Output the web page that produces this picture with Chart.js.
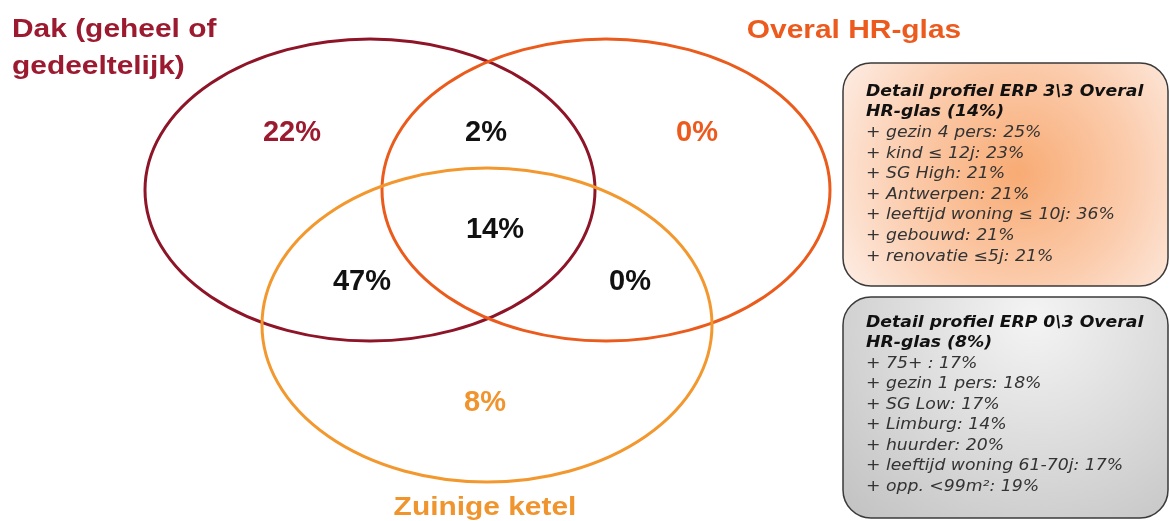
<!DOCTYPE html>
<html>
<head>
<meta charset="utf-8">
<script src="https://cdn.jsdelivr.net/npm/chart.js@4/dist/chart.umd.min.js"></script>
<style>html,body{margin:0;padding:0;background:#fff}</style>
</head>
<body>
<canvas id="chart" width="1170" height="521"></canvas>
<script>
// sets and overlap shares (%)
const setNames = [["Dak (geheel of", "gedeeltelijk)"], ["Overal HR-glas"], ["Zuinige ketel"]];
const regionNames = ["Dak", "Dak + HR-glas", "HR-glas", "Dak + HR-glas + ketel", "Dak + ketel", "HR-glas + ketel", "Ketel"];
const regionShares = [22, 2, 0, 14, 47, 0, 8];
const profileTitles = [
  ["Detail profiel ERP 3\\3 Overal", "HR-glas (14%)"],
  ["Detail profiel ERP 0\\3 Overal", "HR-glas (8%)"]
];
const profileHigh = ["+ gezin 4 pers: 25%", "+ kind \u2264 12j: 23%", "+ SG High: 21%", "+ Antwerpen: 21%",
  "+ leeftijd woning \u2264 10j: 36%", "+ gebouwd: 21%", "+ renovatie \u22645j: 21%"];
const profileLow = ["+ 75+ : 17%", "+ gezin 1 pers: 18%", "+ SG Low: 17%", "+ Limburg: 14%",
  "+ huurder: 20%", "+ leeftijd woning 61-70j: 17%", "+ opp. <99m\u00b2: 19%"];

// layout (axis units == pixels)
const ellipses = [
  { cx: 370, cy: 190, rx: 225, ry: 151, color: "#8e1428" },
  { cx: 606, cy: 190, rx: 224, ry: 151, color: "#ea5b1c" },
  { cx: 487, cy: 325, rx: 225, ry: 157, color: "#f3982e" }
];
const setLabelPos = [
  { x: 12, y: [37, 74], align: "left", color: "#9c1a30" },
  { x: 854, y: [38], align: "center", color: "#ec5a1e" },
  { x: 485, y: [515], align: "center", color: "#f0942e" }
];
const regionPos = [[292, 133], [486, 133], [697, 133], [495, 230], [362, 282], [630, 282], [485, 403]];
const regionColors = ["#9c1a30", "#111", "#ec5a1e", "#111", "#111", "#111", "#f0942e"];
const boxes = [
  { x: 843, y: 63, w: 325, h: 223, top: 92, step: 20.6, items: profileHigh, kind: "orange" },
  { x: 843, y: 297, w: 325, h: 221, top: 323, step: 20.5, items: profileLow, kind: "grey" }
];
const STRETCH = 1.15;

function text(ctx, str, x, y, font, color, align, sx) {
  ctx.save();
  ctx.font = font;
  ctx.fillStyle = color;
  ctx.textAlign = align;
  ctx.translate(x, y);
  ctx.scale(sx, 1);
  ctx.fillText(str, 0, 0);
  ctx.restore();
}

function roundRect(ctx, x, y, w, h, r) {
  ctx.beginPath();
  ctx.moveTo(x + r, y);
  ctx.arcTo(x + w, y, x + w, y + h, r);
  ctx.arcTo(x + w, y + h, x, y + h, r);
  ctx.arcTo(x, y + h, x, y, r);
  ctx.arcTo(x, y, x + w, y, r);
  ctx.closePath();
}

const vennPlugin = {
  id: "venn",
  beforeDatasetsDraw(chart) {
    const { ctx, scales: { x, y } } = chart;
    ellipses.forEach((e) => {
      const px = x.getPixelForValue(e.cx), py = y.getPixelForValue(e.cy);
      const rx = Math.abs(x.getPixelForValue(e.cx + e.rx) - px);
      const ry = Math.abs(y.getPixelForValue(e.cy + e.ry) - py);
      ctx.save();
      ctx.beginPath();
      ctx.ellipse(px, py, rx, ry, 0, 0, Math.PI * 2);
      ctx.strokeStyle = e.color;
      ctx.lineWidth = 3;
      ctx.stroke();
      ctx.restore();
    });
    setNames.forEach((lines, i) => {
      const p = setLabelPos[i];
      lines.forEach((l, j) => {
        text(ctx, l, x.getPixelForValue(p.x), y.getPixelForValue(p.y[j]),
          "bold 26px 'Liberation Sans', Arial", p.color, p.align, STRETCH);
      });
    });
    boxes.forEach((b, i) => {
      const bx = x.getPixelForValue(b.x), by = y.getPixelForValue(b.y);
      ctx.save();
      roundRect(ctx, bx, by, b.w, b.h, 28);
      let g;
      if (b.kind === "orange") {
        g = ctx.createRadialGradient(bx + 175, by + 110, 0, bx + 175, by + 110, 200);
        g.addColorStop(0, "#f8ab74");
        g.addColorStop(0.55, "#fbcbab");
        g.addColorStop(1, "#fdebe1");
      } else {
        g = ctx.createRadialGradient(bx + 190, by + 20, 0, bx + 190, by + 20, 300);
        g.addColorStop(0, "#f4f4f4");
        g.addColorStop(1, "#bdbdbd");
      }
      ctx.fillStyle = g;
      ctx.fill();
      ctx.strokeStyle = "#3a3a3a";
      ctx.lineWidth = 1.5;
      ctx.stroke();
      ctx.restore();
      const tx = bx + 23;
      ctx.textBaseline = "middle";
      profileTitles[i].forEach((l, j) => {
        text(ctx, l, tx, y.getPixelForValue(b.top + j * b.step),
          "italic bold 15px 'DejaVu Sans'", "#111", "left", STRETCH);
      });
      b.items.forEach((l, j) => {
        text(ctx, l, tx, y.getPixelForValue(b.top + (j + 2) * b.step),
          "italic 15px 'DejaVu Sans'", "#333", "left", STRETCH);
      });
      ctx.textBaseline = "alphabetic";
    });
  },
  afterDatasetsDraw(chart) {
    const { ctx } = chart;
    const meta = chart.getDatasetMeta(0);
    meta.data.forEach((pt, i) => {
      ctx.save();
      ctx.textBaseline = "middle";
      text(ctx, regionShares[i] + "%", pt.x, pt.y, "bold 29px 'Liberation Sans', Arial", regionColors[i], "center", 1);
      ctx.restore();
    });
  }
};

new Chart(document.getElementById("chart"), {
  type: "scatter",
  data: {
    labels: regionNames,
    datasets: [{
      label: "Aandeel",
      data: regionPos.map(([px, py]) => ({ x: px, y: py })),
      pointRadius: 0
    }]
  },
  options: {
    responsive: false,
    animation: false,
    layout: { padding: 0 },
    plugins: { legend: { display: false }, tooltip: { enabled: false } },
    scales: {
      x: { type: "linear", min: 0, max: 1170, display: false },
      y: { type: "linear", min: 0, max: 521, reverse: true, display: false }
    }
  },
  plugins: [vennPlugin]
});
</script>
</body>
</html>
